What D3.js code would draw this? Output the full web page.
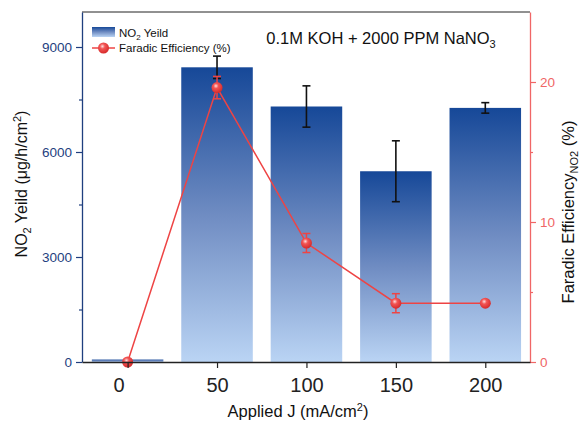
<!DOCTYPE html>
<html>
<head>
<meta charset="utf-8">
<script src="https://cdn.jsdelivr.net/npm/d3@7"></script>
<style>
  body { margin: 0; background: #fff; }
  svg { font-family: "Liberation Sans", Arial, sans-serif; }
</style>
</head>
<body>
<div id="root"></div>
<script>
const WIDTH = 579;
const HEIGHT = 426;
const MARGIN = {top: 12, right: 49, bottom: 64, left: 82};

// data
const currents = [0, 50, 100, 150, 200];
const yieldValues = [70, 8420, 7300, 5450, 7260];
const yieldErrors = [0, 320, 590, 870, 150];
const feValues = [0, 19.6, 8.5, 4.2, 4.2];
const feErrors = [0, 0.8, 0.68, 0.68, 0.1];
const leftTicks = [0, 3000, 6000, 9000];
const rightTicks = [0, 10, 20];

const BAR_WIDTH = 40; // in mA/cm2 units
const NAVY = "#1f3f7f";
const RED = "#ee4444";
const TITLE_SIZE = "16.5px";

const innerW = WIDTH - MARGIN.left - MARGIN.right;
const innerH = HEIGHT - MARGIN.top - MARGIN.bottom;

const xScale = d3.scaleLinear()
    .domain([-25.5, 225])
    .range([MARGIN.left, WIDTH - MARGIN.right]);

const yLeft = d3.scaleLinear()
    .domain([0, 10000])
    .range([HEIGHT - MARGIN.bottom, MARGIN.top]);

const yRight = d3.scaleLinear()
    .domain([0, 25])
    .range([HEIGHT - MARGIN.bottom, MARGIN.top]);

const svg = d3.select("#root")
    .append("svg")
    .attr("width", WIDTH)
    .attr("height", HEIGHT);

const defs = svg.append("defs");

const barGrad = defs.append("linearGradient")
    .attr("id", "barGrad")
    .attr("x1", 0).attr("y1", 0).attr("x2", 0).attr("y2", 1);
barGrad.append("stop").attr("offset", "0%").attr("stop-color", "#164898");
barGrad.append("stop").attr("offset", "50%").attr("stop-color", "#6f8cc2");
barGrad.append("stop").attr("offset", "100%").attr("stop-color", "#bad4f4");

const ballGrad = defs.append("radialGradient")
    .attr("id", "ballGrad")
    .attr("cx", "40%").attr("cy", "35%").attr("r", "65%");
ballGrad.append("stop").attr("offset", "0%").attr("stop-color", "#ffe0e0");
ballGrad.append("stop").attr("offset", "35%").attr("stop-color", "#f25555");
ballGrad.append("stop").attr("offset", "100%").attr("stop-color", "#d62a2a");

// bars
svg.append("g")
    .selectAll("rect")
    .data(currents)
    .join("rect")
    .attr("x", (d, i) => xScale(d - BAR_WIDTH / 2))
    .attr("width", xScale(BAR_WIDTH) - xScale(0))
    .attr("y", (d, i) => yLeft(yieldValues[i]))
    .attr("height", (d, i) => yLeft(0) - yLeft(yieldValues[i]))
    .attr("fill", "url(#barGrad)");

// yield error bars
const errG = svg.append("g")
    .attr("stroke", "#111")
    .attr("stroke-width", 1.6);
currents.forEach((c, i) => {
    if (!yieldErrors[i]) return;
    const x = xScale(c);
    const y1 = yLeft(yieldValues[i] + yieldErrors[i]);
    const y2 = yLeft(yieldValues[i] - yieldErrors[i]);
    errG.append("line").attr("x1", x).attr("x2", x).attr("y1", y1).attr("y2", y2);
    errG.append("line").attr("x1", x - 4).attr("x2", x + 4).attr("y1", y1).attr("y2", y1);
    errG.append("line").attr("x1", x - 4).attr("x2", x + 4).attr("y1", y2).attr("y2", y2);
});

// FE line
const feData = currents.map((c, i) => ({x: c, y: feValues[i], e: feErrors[i]}));
svg.append("path")
    .datum(feData)
    .attr("fill", "none")
    .attr("stroke", RED)
    .attr("stroke-width", 1.5)
    .attr("d", d3.line().x(d => xScale(d.x)).y(d => yRight(d.y)));

const feErrG = svg.append("g")
    .attr("stroke", RED)
    .attr("stroke-width", 1.5);
feData.forEach(d => {
    if (!d.e) return;
    const x = xScale(d.x);
    const y1 = yRight(d.y + d.e);
    const y2 = yRight(d.y - d.e);
    feErrG.append("line").attr("x1", x).attr("x2", x).attr("y1", y1).attr("y2", y2);
    feErrG.append("line").attr("x1", x - 4).attr("x2", x + 4).attr("y1", y1).attr("y2", y1);
    feErrG.append("line").attr("x1", x - 4).attr("x2", x + 4).attr("y1", y2).attr("y2", y2);
});

svg.append("g")
    .selectAll("circle")
    .data(feData)
    .join("circle")
    .attr("cx", d => xScale(d.x))
    .attr("cy", d => yRight(d.y))
    .attr("r", 5.5)
    .attr("fill", "url(#ballGrad)");

// top frame line
svg.append("line")
    .attr("x1", MARGIN.left).attr("x2", WIDTH - MARGIN.right)
    .attr("y1", MARGIN.top).attr("y2", MARGIN.top)
    .attr("stroke", "#222").attr("stroke-width", 1);

// axes
function styleAxis(g, color, fontSize) {
    g.select(".domain").attr("stroke", color).attr("stroke-width", 1.3);
    g.selectAll(".tick line").attr("stroke", color).attr("stroke-width", 1.2);
    g.selectAll(".tick text")
        .attr("fill", color)
        .style("font-size", fontSize)
        .style("font-family", "'Liberation Sans', Arial, sans-serif");
}

// minor ticks
const leftMinor = d3.range(1500, 10000, 3000);
const rightMinor = d3.range(5, 25, 10);

svg.append("g")
    .attr("transform", `translate(${MARGIN.left},0)`)
    .call(d3.axisLeft(yLeft).tickValues(leftMinor).tickSize(3).tickFormat(""))
    .call(g => g.select(".domain").remove())
    .call(g => g.selectAll("line").attr("stroke", NAVY).attr("stroke-width", 1.2));

svg.append("g")
    .attr("transform", `translate(${MARGIN.left},0)`)
    .call(d3.axisLeft(yLeft).tickValues(leftTicks).tickSize(6).tickSizeOuter(0).tickPadding(4).tickFormat(d3.format("d")))
    .call(g => styleAxis(g, NAVY, "13.5px"));

svg.append("g")
    .attr("transform", `translate(${WIDTH - MARGIN.right},0)`)
    .call(d3.axisRight(yRight).tickValues(rightMinor).tickSize(3).tickFormat(""))
    .call(g => g.select(".domain").remove())
    .call(g => g.selectAll("line").attr("stroke", "#f06666").attr("stroke-width", 1.2));

svg.append("g")
    .attr("transform", `translate(${WIDTH - MARGIN.right},0)`)
    .call(d3.axisRight(yRight).tickValues(rightTicks).tickSize(6).tickSizeOuter(0).tickPadding(4))
    .call(g => styleAxis(g, "#f06666", "13.5px"));

svg.append("g")
    .attr("transform", `translate(0,${HEIGHT - MARGIN.bottom})`)
    .call(d3.axisBottom(xScale).tickValues(currents).tickSize(6).tickSizeOuter(0).tickPadding(10))
    .call(g => styleAxis(g, "#222", "20px"))
    .call(g => g.selectAll(".tick text").filter(d => d === 0).attr("dx", -9));

// axis titles
const leftTitle = svg.append("text")
    .attr("transform", `translate(27,${MARGIN.top + innerH / 2 - 3}) rotate(-90)`)
    .attr("text-anchor", "middle")
    .style("font-size", "16px")
    .attr("fill", "#111");
leftTitle.append("tspan").text("NO");
leftTitle.append("tspan").text("2").attr("dy", 4).style("font-size", "11px");
leftTitle.append("tspan").text(" Yeild (μg/h/cm").attr("dy", -4);
leftTitle.append("tspan").text("2").attr("dy", -6).style("font-size", "11px");
leftTitle.append("tspan").text(")").attr("dy", 6);

const rightTitle = svg.append("text")
    .attr("transform", `translate(574,${MARGIN.top + innerH / 2 + 25}) rotate(-90)`)
    .attr("text-anchor", "middle")
    .style("font-size", TITLE_SIZE)
    .attr("fill", "#111");
rightTitle.append("tspan").text("Faradic Efficiency");
rightTitle.append("tspan").text("NO2").attr("dy", 4).style("font-size", "11px");
rightTitle.append("tspan").text(" (%)").attr("dy", -4);

const xTitle = svg.append("text")
    .attr("x", 298)
    .attr("y", 417)
    .attr("text-anchor", "middle")
    .style("font-size", TITLE_SIZE)
    .attr("fill", "#111");
xTitle.append("tspan").text("Applied J (mA/cm");
xTitle.append("tspan").text("2").attr("dy", -6).style("font-size", "11px");
xTitle.append("tspan").text(")").attr("dy", 6);

// annotation
const note = svg.append("text")
    .attr("x", 381)
    .attr("y", 44)
    .attr("text-anchor", "middle")
    .style("font-size", TITLE_SIZE)
    .attr("fill", "#111");
note.append("tspan").text("0.1M KOH + 2000 PPM NaNO");
note.append("tspan").text("3").attr("dy", 4).style("font-size", "11px");

// legend
const legend = svg.append("g").attr("transform", "translate(92,27)");
legend.append("rect")
    .attr("width", 23).attr("height", 10)
    .attr("fill", "url(#barGrad)");
const lt1 = legend.append("text").attr("x", 27).attr("y", 9.5)
    .style("font-size", "11.5px").attr("fill", "#111");
lt1.append("tspan").text("NO");
lt1.append("tspan").text("2").attr("dy", 3).style("font-size", "8px");
lt1.append("tspan").text(" Yeild").attr("dy", -3);

legend.append("line")
    .attr("x1", 0).attr("x2", 23).attr("y1", 21).attr("y2", 21)
    .attr("stroke", RED).attr("stroke-width", 1.5);
legend.append("circle")
    .attr("cx", 11.5).attr("cy", 21).attr("r", 5.5)
    .attr("fill", "url(#ballGrad)");
legend.append("text").attr("x", 27).attr("y", 25)
    .style("font-size", "11.5px").attr("fill", "#111")
    .text("Faradic Efficiency (%)");
</script>
</body>
</html>
